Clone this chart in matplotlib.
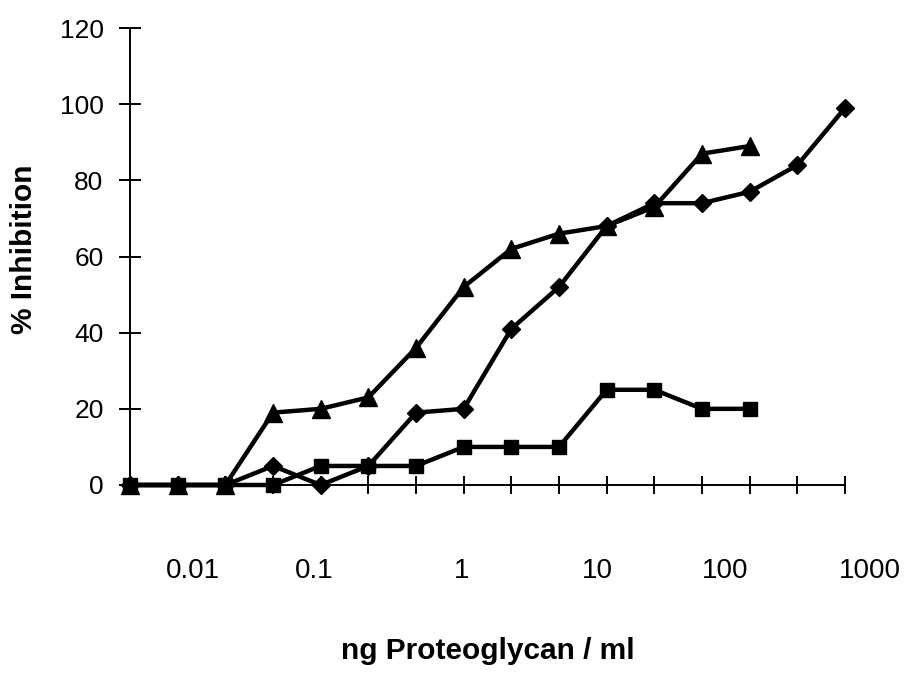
import numpy as np
import matplotlib
matplotlib.use("Agg")
import matplotlib.pyplot as plt

plt.rcParams['font.family'] = ['Liberation Sans', 'DejaVu Sans']

# category positions (dilution steps)
steps = np.arange(16)
# concentration labels, placed by hand under the axis (in step units)
label_pos = [1.32, 3.86, 6.96, 9.80, 12.48, 15.52]
label_text = ["0.01", "0.1", "1", "10", "100", "1000"]

# % inhibition
triangle = [0, 0, 0, 19, 20, 23, 36, 52, 62, 66, 68, 73, 87, 89]
diamond = [0, 0, 0, 5, 0, 5, 19, 20, 41, 52, 68, 74, 74, 77, 84, 99]
square = [0, 0, 0, 0, 5, 5, 5, 10, 10, 10, 25, 25, 20, 20]

fig = plt.figure(figsize=(9.11, 6.90), dpi=100)
ax = fig.add_axes([130/911, (690-485)/690, (845-130)/911, (485-28)/690])

ax.plot(steps[:len(triangle)], triangle, color='black', lw=3.2, marker='^', ms=12.5, clip_on=False)
ax.plot(steps[:len(diamond)], diamond, color='black', lw=3.2, marker='D', ms=9.5, clip_on=False)
ax.plot(steps[:len(square)], square, color='black', lw=3.2, marker='s', ms=10.5, clip_on=False)

ax.set_yticks(range(0, 121, 20))
ax.set_xticks(steps)
ax.set_xticklabels([])
ax.set_xlim(0, 15)
ax.set_ylim(0, 120)

# the concentration labels sit off the tick marks in the original
for xp, txt in zip(label_pos, label_text):
    ax.text(xp, -0.159, txt, transform=ax.get_xaxis_transform(),
            ha='center', va='top', fontsize=20)

for s in ['top', 'right']:
    ax.spines[s].set_visible(False)
for s in ['left', 'bottom']:
    ax.spines[s].set_linewidth(1.4)

ax.tick_params(axis='y', direction='inout', length=16, width=1.4, labelsize=19, pad=11)
ax.tick_params(axis='x', direction='inout', length=13, width=1.4)

ax.set_ylabel('% Inhibition', fontsize=21.5, fontweight='bold')
ax.yaxis.set_label_coords(-0.128, 0.516)
ax.set_xlabel('ng Proteoglycan / ml', fontsize=21.5, fontweight='bold')
ax.xaxis.set_label_coords(0.5, -0.333)

fig.savefig('out.png', dpi=100)
